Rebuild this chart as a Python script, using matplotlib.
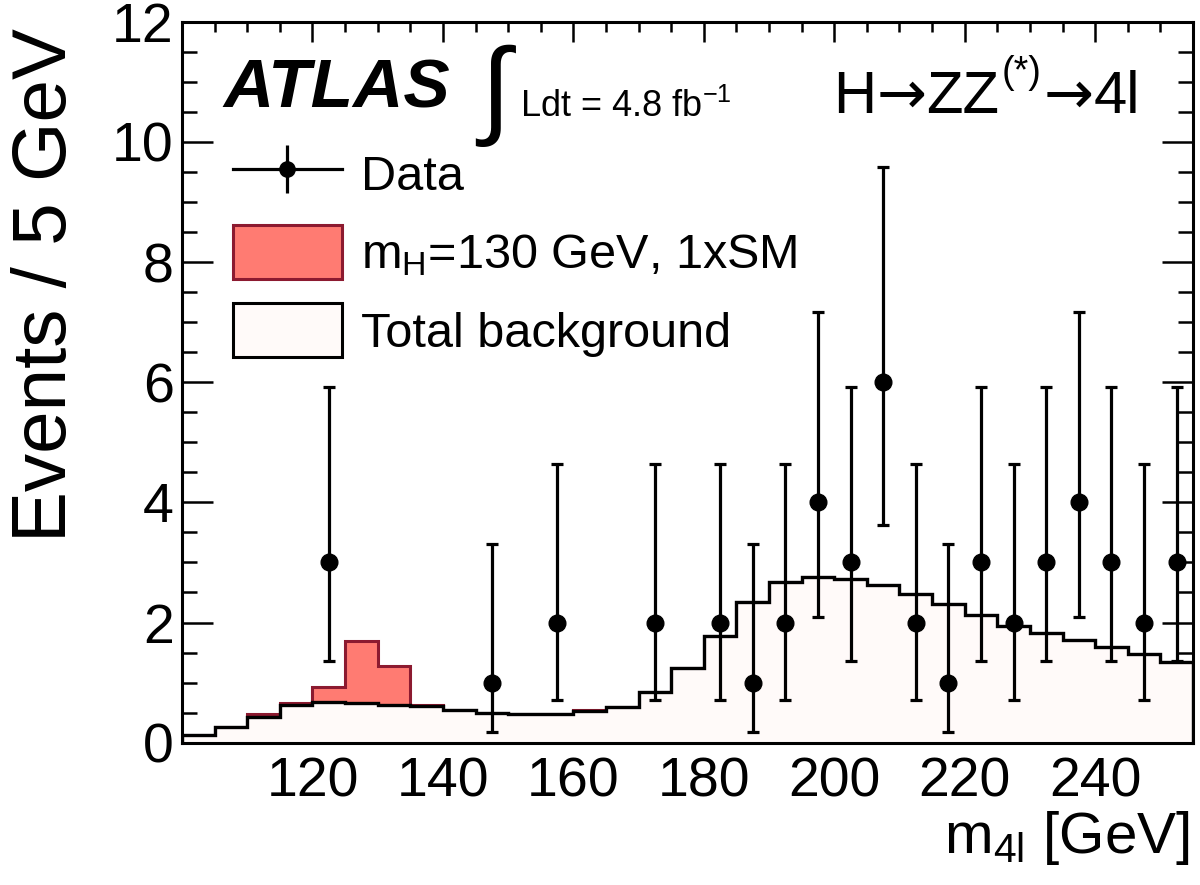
import matplotlib

matplotlib.use("Agg")

import matplotlib.pyplot as plt  # noqa: E402
import numpy as np  # noqa: E402
from matplotlib.lines import Line2D  # noqa: E402
from matplotlib.patches import Patch  # noqa: E402
from matplotlib.legend_handler import HandlerTuple  # noqa: E402
from matplotlib.ticker import MultipleLocator  # noqa: E402

plt.rcParams.update(
    {
        "font.family": ["Liberation Sans", "DejaVu Sans"],
        "mathtext.fontset": "custom",
        "mathtext.rm": "Liberation Sans",
        "mathtext.it": "Liberation Sans:italic",
        "mathtext.bf": "Liberation Sans:bold",
    }
)

# 5 GeV bins, 100 - 255 GeV
bin_edges = np.arange(100, 260, 5)
background = [0.13, 0.26, 0.435, 0.62, 0.67, 0.66, 0.63, 0.61, 0.55, 0.50,
              0.47, 0.48, 0.53, 0.59, 0.85, 1.24, 1.78, 2.34, 2.67, 2.76,
              2.73, 2.62, 2.47, 2.31, 2.13, 1.94, 1.82, 1.71, 1.59, 1.47, 1.35]
signal = [0.0, 0.0, 0.035, 0.045, 0.25, 1.04, 0.64, 0.02, 0.0, 0.0,
          0.0, 0.0, 0.01, 0.0, 0.0, 0.0, 0.0, 0.0, 0.0, 0.0,
          0.0, 0.0, 0.0, 0.0, 0.0, 0.0, 0.0, 0.0, 0.0, 0.0, 0.0]

data_mass = [122.5, 147.5, 157.5, 172.5, 182.5, 187.5, 192.5, 197.5, 202.5, 207.5,
             212.5, 217.5, 222.5, 227.5, 232.5, 237.5, 242.5, 247.5, 252.5]
data_counts = [3, 1, 2, 2, 2, 1, 2, 4, 3, 6, 2, 1, 3, 2, 3, 4, 3, 2, 3]
# Poisson interval edges for n = 1, 2, 3, 4, 6
poisson_lo = {1: 0.173, 2: 0.708, 3: 1.367, 4: 2.086, 6: 3.620}
poisson_hi = {1: 3.300, 2: 4.638, 3: 5.918, 4: 7.163, 6: 9.584}

sig_fill = "#ff7b72"
sig_line = "#8c1a30"
bkg_fill = "#fffaf9"

fig = plt.figure(figsize=(12, 8.85), dpi=100)
ax = fig.add_axes([182 / 1200, 1 - 742.7 / 885, 1011 / 1200, 721 / 885])

bkg = np.array(background)
total = bkg + np.array(signal)
ax.stairs(total, bin_edges, fill=True, facecolor=sig_fill, edgecolor=sig_line, lw=2.2, zorder=1)
ax.stairs(bkg, bin_edges, fill=True, facecolor=bkg_fill, edgecolor="none", zorder=2)
ax.stairs(bkg, bin_edges, fill=False, color="black", lw=2.4, zorder=3)

counts = np.array(data_counts)
lo = np.array([poisson_lo[n] for n in data_counts])
hi = np.array([poisson_hi[n] for n in data_counts])
ax.errorbar(data_mass, counts, yerr=[counts - lo, hi - counts], fmt="o", color="black",
            ms=12, elinewidth=2.3, capsize=4, capthick=2.3, zorder=5)

ax.set_xlim(100, 255)
ax.set_ylim(0, 12)
ax.set_xticks([120, 140, 160, 180, 200, 220, 240])
ax.xaxis.set_minor_locator(MultipleLocator(5))
ax.yaxis.set_major_locator(MultipleLocator(2))
ax.yaxis.set_minor_locator(MultipleLocator(0.5))
ax.tick_params(which="both", direction="in", top=True, right=True, width=1.8, labelsize=40)
ax.tick_params(axis="x", which="major", length=14.5, pad=10)
ax.tick_params(axis="x", which="minor", length=7.2)
ax.tick_params(axis="y", which="major", length=22, pad=6)
ax.tick_params(axis="y", which="minor", length=11)
for s in ax.spines.values():
    s.set_linewidth(2.2)

fig.text(47 / 1200, 1 - 28 / 885, "Events / 5 GeV", rotation=90, ha="center", va="top", fontsize=55)
fig.text(1190 / 1200, 1 - 853 / 885, "m$_{\\mathrm{4l}}$ [GeV]", ha="right", va="baseline", fontsize=42)

fig.text(223 / 1200, 1 - 108 / 885, "ATLAS", fontsize=50, fontweight="bold", fontstyle="italic",
         ha="left", va="baseline")
fig.text(495 / 1200, 1 - 96 / 885, "\u222b", fontsize=78, ha="center", va="center")
fig.text(520 / 1200, 1 - 117 / 885, "Ldt = 4.8 fb$^{\\mathrm{-1}}$", fontsize=26, ha="left", va="baseline")

# H -> ZZ(*) -> 4l, pieced together so the arrows can use a wider glyph
base = 1 - 112.7 / 885
pieces = [
    ("H", 43, "Liberation Sans", 0, 0),
    ("\u2192", 43, "DejaVu Sans", 0, 0),
    ("ZZ", 43, "Liberation Sans", 0, 0),
    ("(*)", 27, "Liberation Sans", 2, 0.034),
    ("\u2192", 43, "DejaVu Sans", 1, 0),
    ("4l", 43, "Liberation Sans", 0, 0),
]
prev = fig.text(833 / 1200, base, "", fontsize=43, ha="left", va="baseline")
for txt, size, fam, gap, lift in pieces:
    prev = ax.annotate(txt, xy=(1, base + lift), xycoords=(prev, "figure fraction"),
                       xytext=(gap, 0), textcoords="offset points",
                       fontsize=size, family=fam, ha="left", va="baseline")

data_handle = (
    Line2D([], [], color="black", lw=2.3, marker="o", ms=11),
    Line2D([], [], color="black", ls="none", marker="|", ms=34, mew=2.3),
)
handles = [
    data_handle,
    Patch(facecolor=sig_fill, edgecolor=sig_line, lw=2.2),
    Patch(facecolor=bkg_fill, edgecolor="black", lw=2.2),
]
labels = ["Data", "m$_{\\mathrm{H}}$=130 GeV, 1xSM", "Total background"]
fig.legend(handles, labels, loc="upper left", bbox_to_anchor=(233 / 1200, 1 - 147 / 885),
           frameon=False, fontsize=35, borderpad=0, borderaxespad=0, handlelength=2.24,
           handleheight=1.33, labelspacing=0.5, handletextpad=0.4,
           handler_map={tuple: HandlerTuple(ndivide=1)})

fig.savefig("out.png", dpi=100)
